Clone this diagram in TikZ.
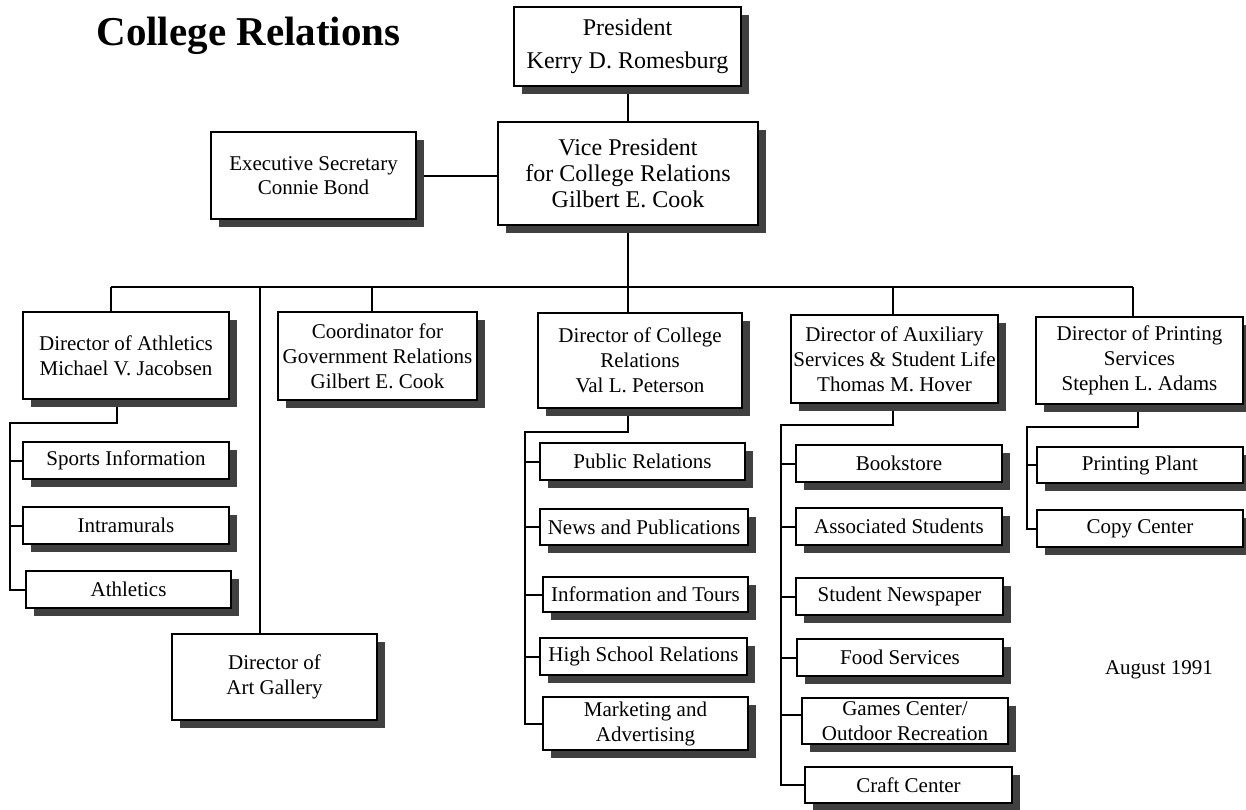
\documentclass[tikz,border=0pt]{standalone}
\usepackage{fontspec}
\setmainfont{Liberation Serif}
\pgfdeclarelayer{background}
\pgfsetlayers{background,main}
\begin{document}
\begin{tikzpicture}[x=1pt,y=-1pt]
\tikzset{
  bx/.style={draw=black, line width=2pt, fill=white, inner sep=0pt, align=center,
    font=\fontsize{21}{25}\selectfont,
    preaction={fill=black!75, transform canvas={xshift=8pt,yshift=-8pt}}},
  conn/.style={line width=2pt, black},
  lbl/.style={inner sep=0pt, anchor=base}
}
\useasboundingbox (0,0) rectangle (1246,809);

\node[lbl, font=\fontsize{41}{46}\selectfont\bfseries] (title) at (248.5,45) {College Relations};
\node[lbl, font=\fontsize{21}{25}\selectfont] (date) at (1159,674) {August 1991};

% top boxes
\node[bx, minimum width=227, minimum height=79, font=\fontsize{24}{33}\selectfont] (pres) at (627.5,46.5) {President\\Kerry D. Romesburg};
\node[bx, minimum width=260, minimum height=103, font=\fontsize{24}{26}\selectfont] (vp) at (628,173.5) {Vice President\\for College Relations\\Gilbert E. Cook};
\node[bx, minimum width=205, minimum height=87, font=\fontsize{21}{24}\selectfont] (exec) at (313.5,175.5) {Executive Secretary\\Connie Bond};

% directors
\node[bx, minimum width=206, minimum height=87] (ath) at (126,355.5) {Director of Athletics\\Michael V. Jacobsen};
\node[bx, minimum width=199, minimum height=88] (coord) at (377.5,356) {Coordinator for\\Government Relations\\Gilbert E. Cook};
\node[bx, minimum width=205, minimum height=86] (art) at (274.5,677) {Director of\\Art Gallery};
\node[bx, minimum width=204, minimum height=95] (col) at (640,360.5) {Director of College\\Relations\\Val L. Peterson};
\node[bx, minimum width=207, minimum height=88] (aux) at (894.5,359) {Director of Auxiliary\\Services \& Student Life\\Thomas M. Hover};
\node[bx, minimum width=207, minimum height=87] (prt) at (1139.5,360.5) {Director of Printing\\Services\\Stephen L. Adams};

% athletics units
\node[bx, minimum width=206, minimum height=37] (spo) at (126,460.5) {Sports Information};
\node[bx, minimum width=206, minimum height=37] (intr) at (126,525.5) {Intramurals};
\node[bx, minimum width=205, minimum height=37] (athl) at (128.5,589.5) {Athletics};

% college relations units
\node[bx, minimum width=205, minimum height=37] (pub) at (642.5,461.5) {Public Relations};
\node[bx, minimum width=208, minimum height=36] (news) at (644,527) {News and Publications};
\node[bx, minimum width=205, minimum height=35] (info) at (645.5,594.5) {Information and Tours};
\node[bx, minimum width=207, minimum height=37] (hs) at (643.5,656.5) {High School Relations};
\node[bx, minimum width=205, minimum height=53] (mkt) at (645.5,723.5) {Marketing and\\Advertising};

% auxiliary units
\node[bx, minimum width=206, minimum height=37] (book) at (899,463.5) {Bookstore};
\node[bx, minimum width=206, minimum height=37] (assoc) at (899,526.5) {Associated Students};
\node[bx, minimum width=207, minimum height=37] (snews) at (899.5,596.5) {Student Newspaper};
\node[bx, minimum width=206, minimum height=37] (food) at (900,657.5) {Food Services};
\node[bx, minimum width=206, minimum height=46] (games) at (905,721) {Games Center/\\Outdoor Recreation};
\node[bx, minimum width=207, minimum height=36] (craft) at (908.5,785) {Craft Center};

% printing units
\node[bx, minimum width=206, minimum height=36] (plant) at (1140,465) {Printing Plant};
\node[bx, minimum width=206, minimum height=37] (copy) at (1140,528.5) {Copy Center};

\coordinate (hub) at (628,287);
\coordinate (athT) at (10,423);
\coordinate (colT) at (525,432);
\coordinate (auxT) at (781,425);
\coordinate (prtT) at (1027,427);

\begin{pgfonlayer}{background}
\draw[conn] (pres.south) -- (pres.south |- vp.north);
\draw[conn] (exec.east) -- (exec.east -| vp.west);
\draw[conn] (vp.south -| hub) -- (hub);
% main bar and drops
\draw[conn] ([xshift=-15pt]ath.north |- hub) -- ([xshift=-6.5pt]prt.north |- hub);
\draw[conn] ([xshift=-15pt]ath.north |- hub) -- ([xshift=-15pt]ath.north);
\draw[conn] ([xshift=-14.5pt]art.north |- hub) -- ([xshift=-14.5pt]art.north);
\draw[conn] ([xshift=-5.5pt]coord.north |- hub) -- ([xshift=-5.5pt]coord.north);
\draw[conn] ([xshift=-12pt]col.north |- hub) -- ([xshift=-12pt]col.north);
\draw[conn] ([xshift=-1.5pt]aux.north |- hub) -- ([xshift=-1.5pt]aux.north);
\draw[conn] ([xshift=-6.5pt]prt.north |- hub) -- ([xshift=-6.5pt]prt.north);
% athletics branch
\draw[conn] ([xshift=-9pt]ath.south) |- (athT) -- (athT |- athl.west) -- (athl.west);
\draw[conn] (athT |- spo.west) -- (spo.west);
\draw[conn] (athT |- intr.west) -- (intr.west);
% college relations branch
\draw[conn] ([xshift=-12pt]col.south) |- (colT) -- (colT |- mkt.west) -- (mkt.west);
\draw[conn] (colT |- pub.west) -- (pub.west);
\draw[conn] (colT |- news.west) -- (news.west);
\draw[conn] (colT |- info.west) -- (info.west);
\draw[conn] (colT |- hs.west) -- (hs.west);
% auxiliary branch
\draw[conn] ([xshift=-1.5pt]aux.south) |- (auxT) -- (auxT |- craft.west) -- (craft.west);
\draw[conn] (auxT |- book.west) -- (book.west);
\draw[conn] (auxT |- assoc.west) -- (assoc.west);
\draw[conn] (auxT |- snews.west) -- (snews.west);
\draw[conn] (auxT |- food.west) -- (food.west);
\draw[conn] ([yshift=6pt]auxT |- games.west) -- ([yshift=6pt]games.west);
% printing branch
\draw[conn] ([xshift=-1.5pt]prt.south) |- (prtT) -- (prtT |- copy.west) -- (copy.west);
\draw[conn] (prtT |- plant.west) -- (plant.west);
\end{pgfonlayer}
\end{tikzpicture}
\end{document}
